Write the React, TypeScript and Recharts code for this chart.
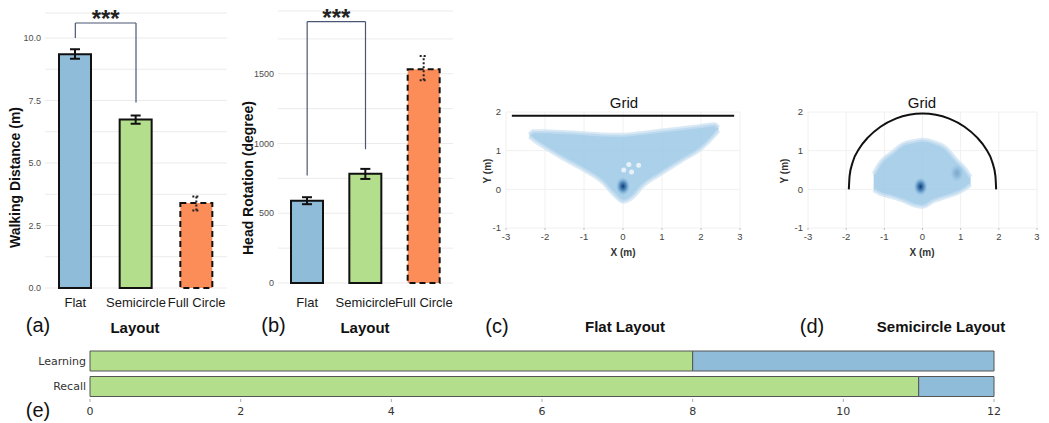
import React from "react";
import {
  ComposedChart,
  BarChart,
  Bar,
  Cell,
  ErrorBar,
  XAxis,
  YAxis,
  CartesianGrid,
  ReferenceLine,
  Area,
  Line,
  Scatter,
} from "recharts";

// (a) + (b) bar panels
const layouts = ["Flat", "Semicircle", "Full Circle"];
const walkMean = [9.35, 6.74, 3.4];
const walkErrLow = [0.18, 0.17, 0.3];
const walkErrHigh = [0.2, 0.16, 0.26];
const walkTicks = [0, 1.25, 2.5, 3.75, 5, 6.25, 7.5, 8.75, 10];

const rotMean = [590, 784, 1533];
const rotErrLow = [25, 38, 79];
const rotErrHigh = [25, 34, 95];
const rotTicks = [0, 250, 500, 750, 1000, 1250, 1500, 1750];

const barFill = ["#8fbcd9", "#b3de8c", "#fc8d59"];
const dashedLayout = "Full Circle";

// significance brackets: [left base, right base, top]
const walkBracket = [10, 7.42, 10.6];
const rotBracket = [770, 959, 1874];

// (c) + (d) position clouds
const posXTicks = [-3, -2, -1, 0, 1, 2, 3];
const posYTicks = [-1, 0, 1, 2];

const flatCloudX = [-2.4, -2.3, -2.0, -1.5, -1.0, -0.5, -0.25, 0, 0.25, 0.5, 1.0, 1.5, 2.0, 2.35, 2.45];
const flatCloudLow = [1.36, 1.28, 1.08, 0.78, 0.5, 0.16, -0.12, -0.32, -0.2, 0.08, 0.42, 0.74, 1.05, 1.4, 1.52];
const flatCloudHigh = [1.42, 1.5, 1.5, 1.48, 1.45, 1.42, 1.41, 1.41, 1.43, 1.46, 1.52, 1.58, 1.64, 1.68, 1.6];
const flatHoleX = [0.02, 0.22, 0.4, 0.15];
const flatHoleY = [0.5, 0.45, 0.62, 0.64];
const flatSpotX = [0];
const flatSpotY = [0.08];
const flatWall = [-2.85, 2.85, 1.9];

const semiCloudX = [-1.28, -1.1, -0.8, -0.5, -0.2, 0, 0.3, 0.6, 0.9, 1.1, 1.26];
const semiCloudLow = [-0.02, -0.12, -0.2, -0.3, -0.42, -0.45, -0.3, -0.2, -0.1, 0.0, 0.12];
const semiCloudHigh = [0.4, 0.7, 0.95, 1.18, 1.25, 1.28, 1.22, 1.08, 0.75, 0.55, 0.32];
const semiSpotX = [-0.05, 0.9];
const semiSpotY = [0.07, 0.42];
const semiSpotWeight = [1, 0.3];
const arcX = [-1.93, -1.91, -1.83, -1.66, -1.42, -1.1, -0.7, -0.35, 0, 0.35, 0.7, 1.1, 1.42, 1.66, 1.83, 1.91, 1.93];
const arcY = [0, 0.35, 0.7, 1.05, 1.35, 1.62, 1.83, 1.93, 1.96, 1.93, 1.83, 1.62, 1.35, 1.05, 0.7, 0.35, 0];

// (e) learning / recall
const phases = ["Learning", "Recall"];
const greenVals = [8, 11];
const blueVals = [4, 1];
const recallTicks = [0, 2, 4, 6, 8, 10, 12];

const walkRows = layouts.map((name, i) => ({
  name,
  value: walkMean[i],
  err: name !== dashedLayout ? [walkErrLow[i], walkErrHigh[i]] : null,
  errDot: name === dashedLayout ? [walkErrLow[i], walkErrHigh[i]] : null,
}));
const rotRows = layouts.map((name, i) => ({
  name,
  value: rotMean[i],
  err: name !== dashedLayout ? [rotErrLow[i], rotErrHigh[i]] : null,
  errDot: name === dashedLayout ? [rotErrLow[i], rotErrHigh[i]] : null,
}));
const flatCloud = flatCloudX.map((x, i) => ({ x, range: [flatCloudLow[i], flatCloudHigh[i]] }));
const flatHoles = flatHoleX.map((x, i) => ({ x, y: flatHoleY[i] }));
const flatSpots = flatSpotX.map((x, i) => ({ x, y: flatSpotY[i], w: 1 }));
const semiCloud = semiCloudX.map((x, i) => ({ x, range: [semiCloudLow[i], semiCloudHigh[i]] }));
const semiSpots = semiSpotX.map((x, i) => ({ x, y: semiSpotY[i], w: semiSpotWeight[i] }));
const arcRows = arcX.map((x, i) => ({ x, y: arcY[i] }));
const recallRows = phases.map((phase, i) => ({ phase, green: greenVals[i], blue: blueVals[i] }));

const arial = "'Liberation Sans', Arial, sans-serif";
const dejavu = "'DejaVu Sans', sans-serif";
const bracketColor = "#4b5772";

function BarPanel({ rows, ticks, domain, bracket, label, top, width, height, yWidth, tickMargin }: any) {
  return (
    <ComposedChart width={width} height={height} data={rows} margin={{ top, right: 0, bottom: 0, left: 0 }}>
      <CartesianGrid vertical={false} stroke="#ebebeb" />
      <XAxis
        dataKey="name"
        axisLine={false}
        tickLine={false}
        tickSize={0}
        tickMargin={tickMargin}
        height={30}
        interval={0}
        tick={{ fontSize: 13, fill: "#1a1a1a" }}
      />
      <YAxis
        domain={domain}
        ticks={ticks}
        width={yWidth}
        axisLine={false}
        tickLine={false}
        tickSize={0}
        tickMargin={4}
        tick={{ fontSize: 9, fill: "#4d4d4d" }}
        tickFormatter={label}
      />
      <Bar dataKey="value" barSize={32} isAnimationActive={false}>
        {rows.map((r: any, i: number) => (
          <Cell
            key={r.name}
            fill={barFill[i]}
            stroke="#111"
            strokeWidth={2}
            strokeDasharray={r.name === dashedLayout ? "6 4" : undefined}
          />
        ))}
        <ErrorBar dataKey="err" direction="y" width={5} stroke="#111" strokeWidth={2} />
        <ErrorBar dataKey="errDot" direction="y" width={4} stroke="#222" strokeWidth={2} strokeDasharray="2 2" />
      </Bar>
      <ReferenceLine
        segment={[{ x: layouts[0], y: bracket[0] }, { x: layouts[0], y: bracket[2] }]}
        stroke={bracketColor}
        strokeWidth={1.2}
      />
      <ReferenceLine
        segment={[{ x: layouts[1], y: bracket[1] }, { x: layouts[1], y: bracket[2] }]}
        stroke={bracketColor}
        strokeWidth={1.2}
      />
      <ReferenceLine
        segment={[{ x: layouts[0], y: bracket[2] }, { x: layouts[1], y: bracket[2] }]}
        stroke={bracketColor}
        strokeWidth={1.2}
        label={{ value: "***", position: "top", offset: -4, fontSize: 24, fontWeight: 700, fill: "#222" }}
      />
    </ComposedChart>
  );
}

function spotShape(id: string) {
  return (p: any) => (
    <ellipse cx={p.cx} cy={p.cy} rx={7} ry={9} fill={`url(#${id})`} opacity={p.payload.w} />
  );
}

function CloudPanel({ cloud, spots, holes, spotId, children, width, right }: any) {
  return (
    <ComposedChart width={width} height={190} margin={{ top: 32, right, bottom: 12, left: 0 }}>
      <defs>
        <radialGradient id={spotId}>
          <stop offset="0%" stopColor="#08306b" stopOpacity={0.95} />
          <stop offset="45%" stopColor="#2a6aa8" stopOpacity={0.7} />
          <stop offset="100%" stopColor="#6baed6" stopOpacity={0} />
        </radialGradient>
      </defs>
      <CartesianGrid stroke="#f0f0f0" />
      <XAxis
        type="number"
        dataKey="x"
        domain={[-3, 3]}
        ticks={posXTicks}
        axisLine={false}
        tickLine={{ stroke: "#bbb" }}
        tickSize={2}
        tickMargin={3}
        height={30}
        tick={{ fontSize: 9.5, fill: "#444" }}
      />
      <YAxis
        type="number"
        domain={[-1, 2]}
        ticks={posYTicks}
        width={36}
        axisLine={false}
        tickLine={false}
        tickSize={0}
        tickMargin={5}
        tick={{ fontSize: 9.5, fill: "#444" }}
      />
      <Area
        data={cloud}
        dataKey="range"
        type="monotone"
        fill="#9cc8e6"
        fillOpacity={0.85}
        stroke="#c9e0f1"
        strokeWidth={4}
        strokeOpacity={0.7}
        isAnimationActive={false}
      />
      {holes && (
        <Scatter data={holes} dataKey="y" fill="#ffffff" fillOpacity={0.65} isAnimationActive={false}
          shape={(p: any) => <circle cx={p.cx} cy={p.cy} r={2.5} fill="#fff" fillOpacity={0.7} />} />
      )}
      <Scatter data={spots} dataKey="y" shape={spotShape(spotId)} isAnimationActive={false} />
      {children}
    </ComposedChart>
  );
}

export default function App() {
  return (
    <div style={{ position: "absolute", left: 0, top: 0, width: 1049, height: 423, background: "#fff", fontFamily: arial }}>
      <div style={{ position: "absolute", left: 0, top: 0 }}>
        <BarPanel rows={walkRows} ticks={walkTicks} domain={[0, 11]} bracket={walkBracket}
          label={(v: number) => (v % 2.5 === 0 ? v.toFixed(1) : "")}
          top={13} width={227} height={318} yWidth={45} tickMargin={10} />
      </div>
      <div style={{ position: "absolute", left: 230, top: 0 }}>
        <BarPanel rows={rotRows} ticks={rotTicks} domain={[0, 1950]} bracket={rotBracket}
          label={(v: number) => (v % 500 === 0 ? String(v) : "")}
          top={11} width={223} height={313} yWidth={48} tickMargin={15} />
      </div>
      <div style={{ position: "absolute", left: 470, top: 80 }}>
        <CloudPanel cloud={flatCloud} spots={flatSpots} holes={flatHoles} spotId="spotC" width={290} right={20}>
          <ReferenceLine
            segment={[{ x: flatWall[0], y: flatWall[2] }, { x: flatWall[1], y: flatWall[2] }]}
            stroke="#111"
            strokeWidth={2}
          />
        </CloudPanel>
      </div>
      <div style={{ position: "absolute", left: 772, top: 80 }}>
        <CloudPanel cloud={semiCloud} spots={semiSpots} spotId="spotD" width={277} right={12}>
          <Line data={arcRows} dataKey="y" type="monotone" stroke="#111" strokeWidth={2} dot={false} isAnimationActive={false} />
        </CloudPanel>
      </div>
      <div style={{ position: "absolute", left: 0, top: 340, fontFamily: dejavu }}>
        <BarChart layout="vertical" width={1049} height={83} data={recallRows} barSize={20}
          margin={{ top: 8, right: 55, bottom: 0, left: 0 }}>
          <XAxis type="number" domain={[0, 12]} ticks={recallTicks} height={24} axisLine={false}
            tickLine={{ stroke: "#aaa" }} tickSize={3} tickMargin={5} tick={{ fontSize: 11, fill: "#333" }} />
          <YAxis type="category" dataKey="phase" width={90} axisLine={false} tickLine={false}
            tickSize={0} tickMargin={4} tick={{ fontSize: 11, fill: "#333" }} />
          <Bar dataKey="green" stackId="t" fill="#b3de8c" stroke="#555" strokeWidth={1} isAnimationActive={false} />
          <Bar dataKey="blue" stackId="t" fill="#8fbcd9" stroke="#555" strokeWidth={1} isAnimationActive={false} />
        </BarChart>
      </div>
      <svg width={1049} height={423} style={{ position: "absolute", left: 0, top: 0, pointerEvents: "none", fontFamily: arial }}>
        <g dominantBaseline="central" textAnchor="middle" fill="#111">
          <text x={15} y={177.5} fontSize={14} fontWeight={700} transform="rotate(-90 15 177.5)">Walking Distance (m)</text>
          <text x={247.5} y={178} fontSize={14} fontWeight={700} transform="rotate(-90 247.5 178)">Head Rotation (degree)</text>
          <text x={38} y={325} fontSize={20}>(a)</text>
          <text x={135} y={327} fontSize={15} fontWeight={700}>Layout</text>
          <text x={273.5} y={325} fontSize={20}>(b)</text>
          <text x={365} y={327} fontSize={15} fontWeight={700}>Layout</text>
          <text x={497} y={326} fontSize={20}>(c)</text>
          <text x={625} y={326} fontSize={15} fontWeight={700}>Flat Layout</text>
          <text x={812} y={326} fontSize={20}>(d)</text>
          <text x={941} y={326} fontSize={15} fontWeight={700}>Semicircle Layout</text>
          <text x={38} y={410} fontSize={20}>(e)</text>
          <text x={624} y={102.5} fontSize={15}>Grid</text>
          <text x={922} y={102.5} fontSize={15}>Grid</text>
          <text x={487} y={171} fontSize={10} fontWeight={700} fill="#333" transform="rotate(-90 487 171)">Y (m)</text>
          <text x={623} y={252} fontSize={10} fontWeight={700} fill="#333">X (m)</text>
          <text x={784} y={171} fontSize={10} fontWeight={700} fill="#333" transform="rotate(-90 784 171)">Y (m)</text>
          <text x={922} y={252} fontSize={10} fontWeight={700} fill="#333">X (m)</text>
        </g>
      </svg>
    </div>
  );
}
